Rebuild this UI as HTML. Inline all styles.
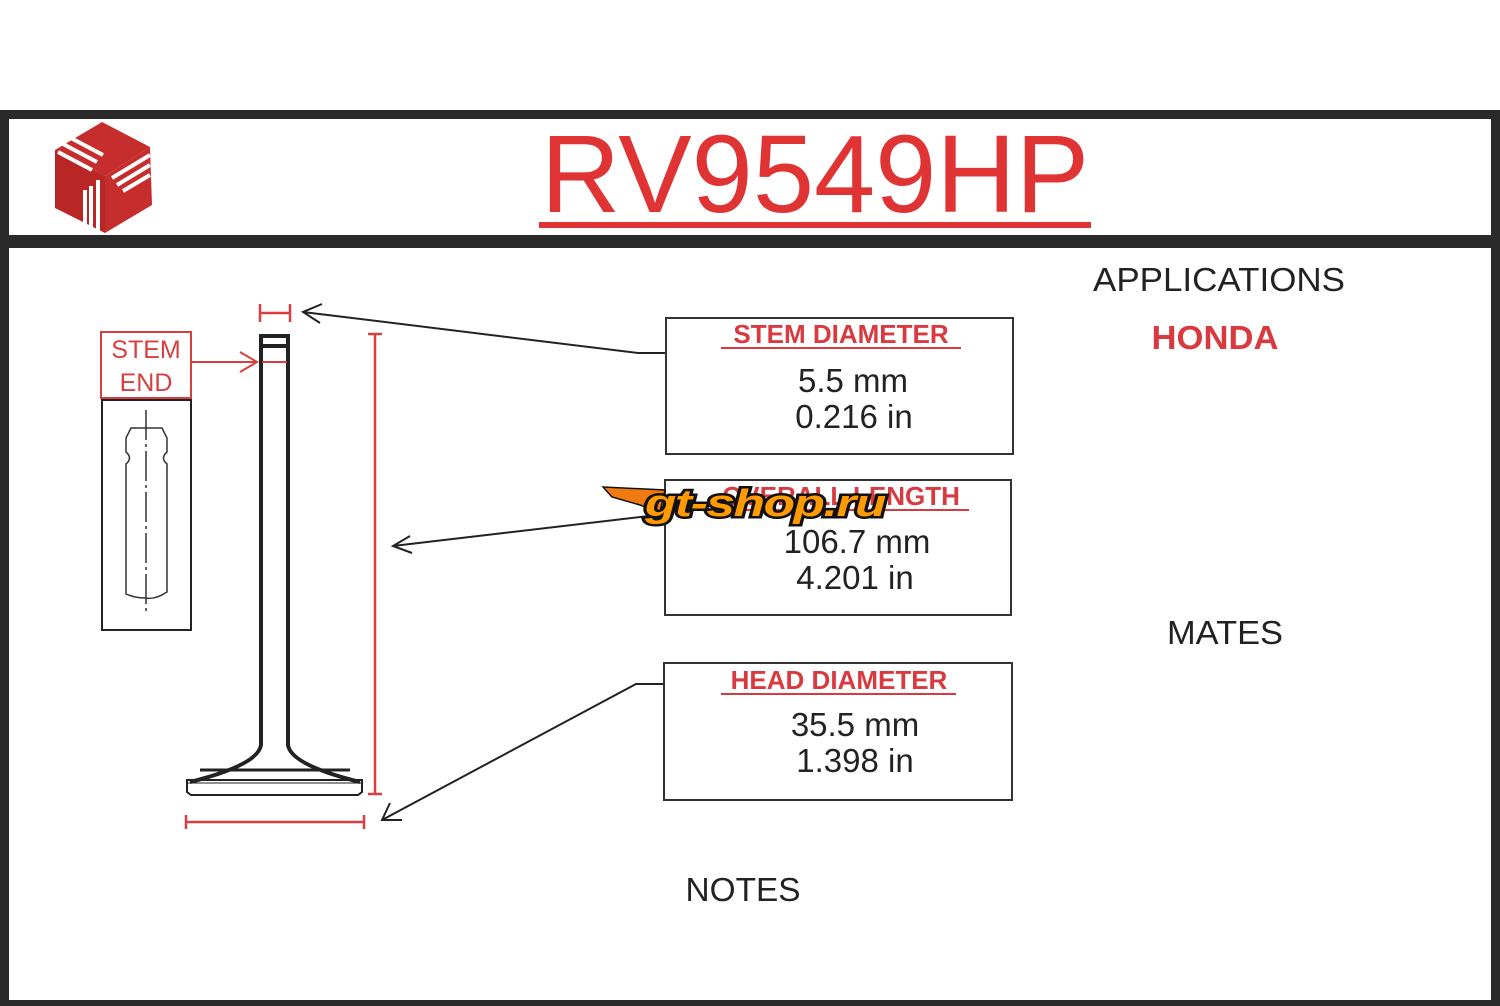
<!DOCTYPE html>
<html><head><meta charset="utf-8"><style>
html,body{margin:0;padding:0;background:#fff;}
svg{display:block;font-family:"Liberation Sans",Arial,sans-serif;}
</style></head><body>
<svg width="1500" height="1006" viewBox="0 0 1500 1006" xmlns="http://www.w3.org/2000/svg">
<rect width="1500" height="1006" fill="#fff"/>
<rect x="0" y="110" width="1500" height="9" fill="#2a2a2a"/>
<rect x="0" y="110" width="9" height="896" fill="#2a2a2a"/>
<rect x="1491" y="110" width="9" height="896" fill="#2a2a2a"/>
<rect x="0" y="235" width="1500" height="13" fill="#2a2a2a"/>
<rect x="0" y="1000" width="1500" height="6" fill="#2a2a2a"/>
<g>
<polygon points="102,122 150,147 105,176 55,150" fill="#c62d2d"/>
<polygon points="55,150 105,176 105,233 55,208" fill="#b82626"/>
<polygon points="105,176 150,147 152,205 105,233" fill="#c62d2d"/>
<g stroke="#fff" stroke-width="4" fill="none">
<line x1="58" y1="152" x2="92" y2="170"/><line x1="63" y1="144" x2="97" y2="162"/><line x1="69" y1="137" x2="103" y2="155"/>
<line x1="112" y1="178" x2="150" y2="155"/><line x1="117" y1="185" x2="150" y2="165"/><line x1="123" y1="191" x2="150" y2="175"/>
<line x1="98" y1="180" x2="98" y2="232"/><line x1="91" y1="186" x2="91" y2="228"/><line x1="85" y1="190" x2="85" y2="224"/>
</g></g>
<text x="815" y="212" font-size="110" fill="#e03434" text-anchor="middle">RV9549HP</text>
<rect x="539" y="222" width="552" height="6" fill="#e03434"/>
<rect x="101" y="332" width="90" height="66" fill="none" stroke="#d84040" stroke-width="2"/>
<text x="146" y="358" font-size="25" fill="#d84040" text-anchor="middle">STEM</text>
<text x="146" y="391" font-size="25" fill="#d84040" text-anchor="middle">END</text>
<rect x="102" y="400" width="89" height="230" fill="none" stroke="#222" stroke-width="2"/>
<line x1="192" y1="362" x2="256" y2="362" stroke="#d84040" stroke-width="2"/>
<polyline points="240,352 257,362 240,372" fill="none" stroke="#d84040" stroke-width="2"/>
<g fill="none" stroke="#333" stroke-width="1.5">
<path d="M126,438 L131,428 L162,428 L167,438 L167,452 Q160,458 167,464 L167,592 Q155,600 145,598 Q135,598 126,594 L126,464 Q133,458 126,452 Z"/>
<line x1="146" y1="410" x2="146" y2="612" stroke-dasharray="30,4,3,4"/>
</g>
<g fill="none" stroke="#222">
<rect x="261" y="336" width="27" height="10" stroke-width="4"/>
<path d="M261,336 L261,745 Q258,765 190,782" stroke-width="4"/>
<path d="M288,336 L288,745 Q291,765 360,782" stroke-width="4"/>
<line x1="200" y1="770" x2="350" y2="770" stroke-width="3"/>
<path d="M187,780 L362,780 L362,792 L358,795 L191,795 L187,792 Z" stroke-width="2"/>
<line x1="187" y1="783" x2="362" y2="783" stroke-width="1"/>
</g>
<line x1="262" y1="362" x2="287" y2="362" stroke="#d84040" stroke-width="2"/>
<g stroke="#d84040" stroke-width="2.5">
<line x1="261" y1="313" x2="289" y2="313"/><line x1="260" y1="304" x2="260" y2="322"/><line x1="290" y1="304" x2="290" y2="322"/>
<line x1="375" y1="334" x2="375" y2="794"/><line x1="368" y1="334" x2="382" y2="334"/><line x1="368" y1="794" x2="382" y2="794"/>
<line x1="186" y1="822" x2="364" y2="822"/><line x1="186" y1="815" x2="186" y2="829"/><line x1="364" y1="815" x2="364" y2="829"/>
</g>
<g fill="none" stroke="#222" stroke-width="2">
<polyline points="666,353 638,353 303,312"/><polyline points="322,304 303,312 320,323"/>
<polyline points="666,514 393,546"/><polyline points="410,536 393,546 412,553"/>
<polyline points="664,684 636,684 382,820"/><polyline points="390,803 382,820 402,820"/>
</g>
<g fill="#fff" stroke="#333" stroke-width="2">
<rect x="666" y="318" width="347" height="136"/>
<rect x="665" y="480" width="346" height="135"/>
<rect x="664" y="663" width="348" height="137"/>
</g>
<g font-weight="bold" font-size="26" fill="#d83a40" text-anchor="middle">
<text x="841" y="343">STEM  DIAMETER</text>
<text x="841" y="505">OVERALL LENGTH</text>
<text x="839" y="689">HEAD DIAMETER</text>
</g>
<g fill="#d83a40"><rect x="721" y="347" width="240" height="2"/><rect x="716" y="509" width="253" height="2"/><rect x="721" y="693" width="235" height="2"/></g>
<g font-size="33" fill="#222" text-anchor="middle">
<text x="853" y="392">5.5 mm</text><text x="854" y="428">0.216 in</text>
<text x="857" y="553">106.7 mm</text><text x="855" y="589">4.201 in</text>
<text x="855" y="736">35.5 mm</text><text x="855" y="772">1.398 in</text>
</g>
<g>
<polygon points="603,487 665,490 660,512 640,505 612,497" fill="#f07a10" stroke="#111" stroke-width="1.5"/>
<text x="765" y="516" font-size="38" font-weight="bold" font-style="italic" fill="#ff9a00" stroke="#111" stroke-width="5" paint-order="stroke" text-anchor="middle" letter-spacing="-1" textLength="240" lengthAdjust="spacingAndGlyphs">gt-shop.ru</text>
</g>
<text x="1219" y="291" font-size="33" fill="#222" text-anchor="middle" textLength="252" lengthAdjust="spacingAndGlyphs">APPLICATIONS</text>
<text x="1215" y="349" font-size="33" font-weight="bold" fill="#d83a40" text-anchor="middle" textLength="127" lengthAdjust="spacingAndGlyphs">HONDA</text>
<text x="1225" y="644" font-size="33" fill="#222" text-anchor="middle" textLength="116" lengthAdjust="spacingAndGlyphs">MATES</text>
<text x="743" y="901" font-size="33" fill="#222" text-anchor="middle" textLength="115" lengthAdjust="spacingAndGlyphs">NOTES</text>
</svg>
</body></html>
